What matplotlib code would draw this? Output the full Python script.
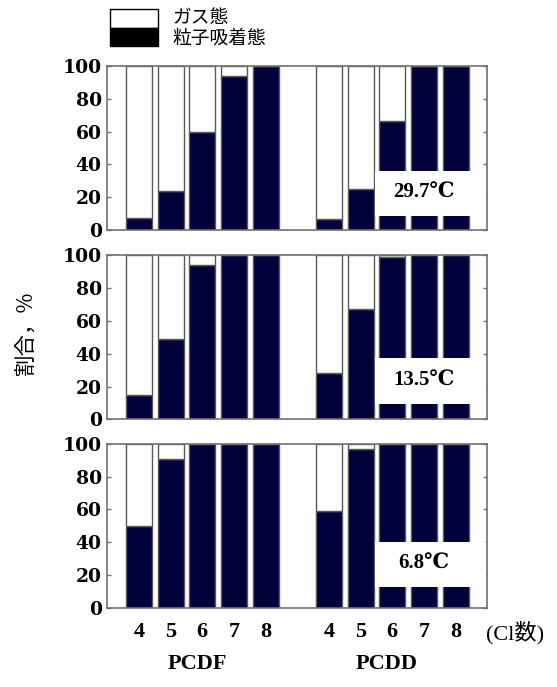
import matplotlib
matplotlib.use("Agg")
import matplotlib.pyplot as plt
from matplotlib.patches import Rectangle

# ---- data ----
cl_labels = ["4", "5", "6", "7", "8"]
groups = ["PCDF", "PCDD"]
temps = ["29.7℃", "13.5℃", "6.8℃"]
pcdf_particle = [
    [7.5, 24, 60, 94, 100],
    [15, 49, 94, 100, 100],
    [50, 91, 100, 100, 100],
]
pcdd_particle = [
    [6.5, 25, 66.5, 100, 100],
    [28, 67, 99, 100, 100],
    [59, 97, 100, 100, 100],
]
# white label box vertical extents (percent) per panel
box_lo = [8.7, 9.3, 12.8]
box_hi = [36.2, 37.6, 40.3]
yticks = [0, 20, 40, 60, 80, 100]

W, H = 557, 687
fig = plt.figure(figsize=(W / 100, H / 100), dpi=100)

def fx(px):
    return px / W

def fy(py):
    return 1 - py / H

navy = "#00003a"
edge = "#5a5a5a"
spine_c = "#707070"

left_px, right_px = 107.3, 487.3
panel_px = [(66, 230), (255.3, 419.3), (444, 607.7)]

pos_f = [0, 1, 2, 3, 4]
pos_d = [6, 7, 8, 9, 10]
bw = 0.82

tickfont = dict(family="DejaVu Serif", weight="bold", size=13.5)

axes = []
for i, (top, bot) in enumerate(panel_px):
    ax = fig.add_axes([fx(left_px), fy(bot), fx(right_px) - fx(left_px), (bot - top) / H])
    axes.append(ax)
    for pos, vals in ((pos_f, pcdf_particle[i]), (pos_d, pcdd_particle[i])):
        gas = [100 - v for v in vals]
        ax.bar(pos, vals, width=bw, color=navy, edgecolor=edge, linewidth=1.0, zorder=2)
        ax.bar(pos, gas, width=bw, bottom=vals, color="white", edgecolor=edge, linewidth=1.0, zorder=2)
    ax.add_patch(Rectangle((7.45, box_lo[i]), 10.97 - 7.45, box_hi[i] - box_lo[i],
                           facecolor="white", edgecolor="none", zorder=3))
    ax.text(9.0, (box_lo[i] + box_hi[i]) / 2, temps[i], ha="center", va="center",
            fontsize=15, fontweight="bold", family=["Liberation Serif", "DejaVu Serif"], zorder=4)
    ax.set_xlim(-1, 11)
    ax.set_ylim(0, 100)
    ax.set_yticks(yticks)
    ax.set_yticklabels([str(t) for t in yticks], fontdict=tickfont)
    ax.tick_params(axis="y", direction="in", length=3, width=1, color=spine_c,
                   right=True, left=True, pad=4)
    for s in ax.spines.values():
        s.set_color(spine_c)
        s.set_linewidth(1.2)
        s.set_zorder(5)
    if i < 2:
        ax.set_xticks([])
    else:
        ax.set_xticks(pos_f + pos_d)
        ax.set_xticklabels(cl_labels + cl_labels, fontsize=16, fontweight="bold",
                           family="Liberation Serif")
        ax.tick_params(axis="x", length=0, pad=10)

# x-axis annotations
fig.text(fx(515), fy(633), "(Cl数)", ha="center", va="center", fontsize=16,
         family=["Liberation Serif", "Noto Sans CJK JP"])
fig.text(fx(197.5), fy(664), groups[0], ha="center", va="center", fontsize=16,
         fontweight="bold", family="Liberation Serif")
fig.text(fx(386.5), fy(664), groups[1], ha="center", va="center", fontsize=16,
         fontweight="bold", family="Liberation Serif")

# y label
fig.text(fx(26), fy(333), "割合，%", rotation=90, ha="center", va="center", fontsize=15.5,
         family=["Noto Sans CJK JP", "DejaVu Sans"])

# legend
fig.patches.append(Rectangle((fx(110), fy(27.5)), fx(48), 18.5 / H, transform=fig.transFigure,
                             facecolor="white", edgecolor="black", linewidth=1.0))
fig.patches.append(Rectangle((fx(110), fy(46)), fx(48), 18.5 / H, transform=fig.transFigure,
                             facecolor="black", edgecolor="black", linewidth=1.0))
fig.text(fx(172), fy(17.5), "ガス態", ha="left", va="center", fontsize=13.5,
         family="Noto Sans CJK JP")
fig.text(fx(172), fy(38.5), "粒子吸着態", ha="left", va="center", fontsize=13.5,
         family="Noto Sans CJK JP")

fig.savefig("out.png", dpi=100)
